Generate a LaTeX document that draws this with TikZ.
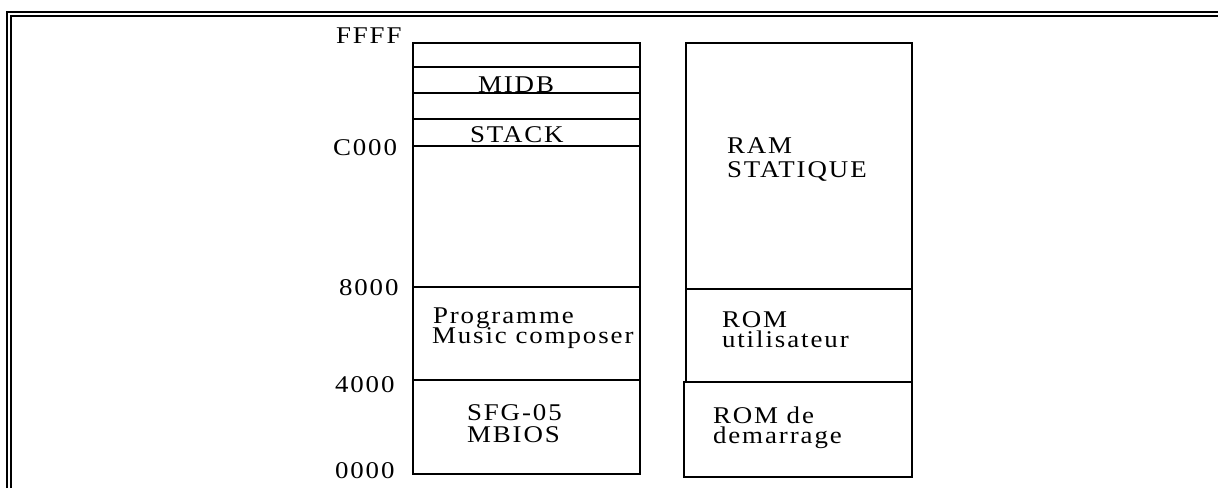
\documentclass[tikz,border=0pt]{standalone}
\usepackage{fontspec}
\setmainfont{Liberation Serif}[LetterSpace=8,FakeStretch=1.12]
\begin{document}
\begin{tikzpicture}[x=1pt,y=-1pt,
  lbl/.style={font=\fontsize{24}{24}\selectfont, inner sep=0pt, outer sep=0pt, anchor=base west},
  thin line/.style={line width=1.4pt},
  mid line/.style={line width=2pt},
  thick line/.style={line width=2.8pt},
  frame line/.style={line width=1.8pt}]
\useasboundingbox (0,0) rectangle (1218,488);
% frame (double line, top and left)
\draw[frame line] (7,488) -- (7,11.7) -- (1218,11.7);
\draw[frame line] (11,488) -- (11,15.7) -- (1218,15.7);
% left column, upper part
\draw[mid line] (413,287) -- (413,43) -- (640,43) -- (640,287);
\draw[thin line] (413,67) -- (640,67);
\draw[thin line] (413,93) -- (640,93);
\draw[thin line] (413,119) -- (640,119);
\draw[thin line] (413,146) -- (640,146);
% left column, lower part
\draw[thick line] (413,287) rectangle (640,380);
\draw[thick line] (413,380) rectangle (640,474);
% right column
\draw[mid line] (686,289) -- (686,43) -- (912,43) -- (912,289);
\draw[line width=2.4pt] (686,289) rectangle (912,382);
\draw[thick line] (684,382) rectangle (912,477);
% address labels
\node[lbl] (ffff) at (336,43) {FFFF};
\node[lbl] (c000) at (333,155) {C000};
\node[lbl] (a8000) at (339,295) {8000};
\node[lbl] (a4000) at (335,392) {4000};
\node[lbl] (a0000) at (335,478) {0000};
% left column texts
\node[lbl] (midb) at (478,92) {MIDB};
\node[lbl] (stack) at (470,142) {STACK};
\begin{scope}
\clip (413,287) rectangle (639,380);
\node[lbl] (prog) at (433,323) {Programme};
\node[lbl] (music) at (432,343) {Music composer};
\end{scope}
\node[lbl] (sfg) at (467,420) {SFG-05};
\node[lbl] (mbios) at (467,442) {MBIOS};
% right column texts
\node[lbl] (ram) at (727,153) {RAM};
\node[lbl] (stat) at (727,177) {STATIQUE};
\node[lbl] (rom) at (722,327) {ROM};
\node[lbl] (util) at (722,347) {utilisateur};
\node[lbl] (romde) at (713,423) {ROM de};
\node[lbl] (dem) at (713,443) {demarrage};
\end{tikzpicture}
\end{document}
